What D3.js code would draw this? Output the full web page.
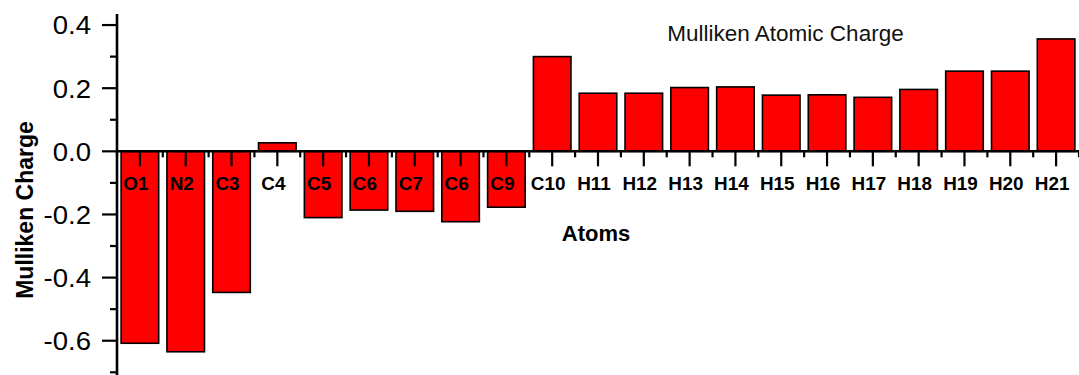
<!DOCTYPE html>
<html>
<head>
<meta charset="utf-8">
<script src="https://cdn.jsdelivr.net/npm/d3@7"></script>
<style>
  html, body { margin: 0; padding: 0; background: #fff; }
  svg { display: block; font-family: "Liberation Sans", Arial, sans-serif; }
</style>
</head>
<body>
<svg id="chart" width="1079" height="375"></svg>
<script>
// Mulliken atomic charges per atom
const atoms = ["O1", "N2", "C3", "C4", "C5", "C6", "C7", "C6", "C9", "C10",
  "H11", "H12", "H13", "H14", "H15", "H16", "H17", "H18", "H19", "H20", "H21"];
const charges = [-0.608, -0.635, -0.447, 0.027, -0.210, -0.186, -0.190, -0.223, -0.177, 0.300,
  0.184, 0.184, 0.202, 0.204, 0.178, 0.179, 0.171, 0.196, 0.254, 0.254, 0.356];
const yTicks = [-0.6, -0.4, -0.2, 0.0, 0.2, 0.4];
const yMinorTicks = [-0.7, -0.5, -0.3, -0.1, 0.1, 0.3];

const svg = d3.select("#chart");
const plotLeft = 117, plotRight = 1079, plotTop = 14, plotBottom = 372.3;

const x = d3.scaleBand()
  .domain(d3.range(atoms.length))
  .range([plotLeft, plotRight])
  .paddingInner(0.18)
  .paddingOuter(0.09);

const y = d3.scaleLinear().domain([-0.7, 0.435]).range([plotBottom, plotTop]);
const y0 = y(0);

// bars
svg.append("g").selectAll("rect")
  .data(charges)
  .join("rect")
  .attr("x", (d, i) => x(i))
  .attr("width", x.bandwidth())
  .attr("y", d => Math.min(y(d), y0))
  .attr("height", d => Math.abs(y(d) - y0))
  .attr("fill", "#ff0000")
  .attr("stroke", "#000")
  .attr("stroke-width", 1.6);

// y axis
const yAxis = svg.append("g").attr("transform", `translate(${plotLeft},0)`);
yAxis.append("line")
  .attr("x1", 0).attr("x2", 0).attr("y1", plotTop).attr("y2", 375)
  .attr("stroke", "#000").attr("stroke-width", 2.6);
yAxis.selectAll(".major").data(yTicks).join("line")
  .attr("class", "major")
  .attr("x1", -15).attr("x2", 0)
  .attr("y1", d => y(d)).attr("y2", d => y(d))
  .attr("stroke", "#000").attr("stroke-width", 2.2);
yAxis.selectAll(".minor").data(yMinorTicks).join("line")
  .attr("class", "minor")
  .attr("x1", -7).attr("x2", 0)
  .attr("y1", d => y(d)).attr("y2", d => y(d))
  .attr("stroke", "#000").attr("stroke-width", 2.2);
yAxis.selectAll("text").data(yTicks).join("text")
  .attr("transform", d => `translate(-26,${y(d)}) scale(1.06,1)`)
  .attr("dy", "0.36em")
  .attr("text-anchor", "end")
  .attr("font-size", 26)
  .attr("fill", "#000")
  .text(d => d3.format(".1f")(d).replace("−", "-"));

// x axis at zero
const xAxis = svg.append("g");
xAxis.append("line")
  .attr("x1", plotLeft).attr("x2", plotRight).attr("y1", y0).attr("y2", y0)
  .attr("stroke", "#000").attr("stroke-width", 2.6);
xAxis.selectAll(".major").data(d3.range(atoms.length)).join("line")
  .attr("class", "major")
  .attr("x1", i => x(i) + x.bandwidth() / 2)
  .attr("x2", i => x(i) + x.bandwidth() / 2)
  .attr("y1", y0).attr("y2", y0 + 15)
  .attr("stroke", "#000").attr("stroke-width", 2.2);
xAxis.selectAll(".minor").data(d3.range(atoms.length + 1)).join("line")
  .attr("class", "minor")
  .attr("x1", i => plotLeft + i * x.step())
  .attr("x2", i => plotLeft + i * x.step())
  .attr("y1", y0).attr("y2", y0 + 6)
  .attr("stroke", "#000").attr("stroke-width", 2.2);
xAxis.selectAll("text").data(atoms).join("text")
  .attr("transform", (d, i) => `translate(${x(i) + x.bandwidth() / 2 - 4},${y0 + 38.5}) scale(1.08,1)`)
  .attr("text-anchor", "middle")
  .attr("font-size", 17.5)
  .attr("font-weight", "bold")
  .attr("fill", "#000")
  .text(d => d);

// axis titles
svg.append("text")
  .attr("x", (plotLeft + plotRight) / 2 - 2)
  .attr("y", 240.5)
  .attr("text-anchor", "middle")
  .attr("font-size", 22)
  .attr("font-weight", "bold")
  .text("Atoms");

svg.append("text")
  .attr("transform", "translate(32.5,210) rotate(-90)")
  .attr("text-anchor", "middle")
  .attr("font-size", 23)
  .attr("font-weight", "bold")
  .text("Mulliken Charge");

// chart title
svg.append("text")
  .attr("x", 785.5)
  .attr("y", 40.5)
  .attr("text-anchor", "middle")
  .attr("font-size", 22.5)
  .attr("fill", "#111")
  .text("Mulliken Atomic Charge");
</script>
</body>
</html>
